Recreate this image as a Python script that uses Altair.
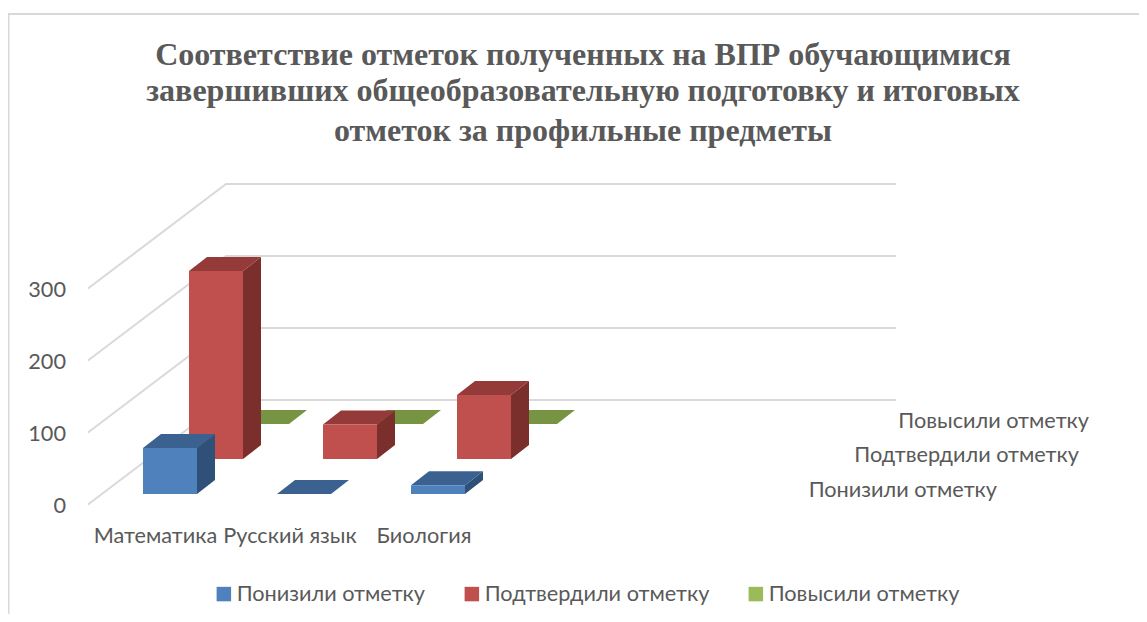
import altair as alt
import pandas as pd

categories = ["Математика", "Русский язык", "Биология"]
series = ["Понизили отметку", "Подтвердили отметку", "Повысили отметку"]
values_down = [64, 0, 12]
values_same = [261, 48, 89]
values_up = [0, 0, 0]
y_ticks = [0, 100, 200, 300]
front_colors = ["#4F81BD", "#C0504D", "#9BBB59"]
top_colors = ["#3B6190", "#943A38", "#769441"]
side_colors = ["#2F5078", "#7B2F2D", "#617A36"]
title_lines = [
    "Соответствие отметок полученных на ВПР обучающимися",
    "завершивших общеобразовательную подготовку и итоговых",
    "отметок за профильные предметы",
]

# Oblique projection of the 3-D plot onto the picture
PX_PER_UNIT = 0.72
FLOOR_LEFT, FLOOR_Y = 88, 504.5
WALL_DX, WALL_DY = 138, 104.5
WALL_RIGHT = 896
BAR_X, BAR_Y = 143, 494
BAR_W = 54
BAR_DX, BAR_DY = 18, 14
CAT_STEP = 134
SER_DX, SER_DY = 46, 35

all_values = [values_down, values_same, values_up]

fronts, tops, sides = [], [], []
for s, vals in enumerate(all_values):
    for c, v in enumerate(vals):
        x0 = BAR_X + CAT_STEP * c + SER_DX * s
        x1 = x0 + BAR_W
        yb = BAR_Y - SER_DY * s
        yt = yb - v * PX_PER_UNIT
        key = f"{s}-{c}"
        fronts.append(dict(s=s, name=series[s], x=x0, x2=x1, y=yb, y2=yt))
        tops += [
            dict(s=s, k=key, y=yt, x=x0, x2=x1),
            dict(s=s, k=key, y=yt - BAR_DY, x=x0 + BAR_DX, x2=x1 + BAR_DX),
        ]
        if v > 0:
            sides += [
                dict(s=s, k=key, x=x1, y=yb, y2=yt),
                dict(s=s, k=key, x=x1 + BAR_DX, y=yb - BAR_DY, y2=yt - BAR_DY),
            ]
fronts, tops, sides = map(pd.DataFrame, (fronts, tops, sides))

X = alt.X("x:Q", axis=None, scale=alt.Scale(domain=[8, 1139], nice=False, zero=False))
Y = alt.Y("y:Q", axis=None, scale=alt.Scale(domain=[614, 8], nice=False, zero=False))

# Walls
wall_rows = []
for t in y_ticks:
    h = t * PX_PER_UNIT
    wall_rows += [
        dict(t=t, x=FLOOR_LEFT, y=FLOOR_Y - h),
        dict(t=t, x=FLOOR_LEFT + WALL_DX, y=FLOOR_Y - h - WALL_DY),
        dict(t=t, x=WALL_RIGHT, y=FLOOR_Y - h - WALL_DY),
    ]
grid = (
    alt.Chart(pd.DataFrame(wall_rows))
    .mark_line(color="#D9D9D9", strokeWidth=2, interpolate="linear")
    .encode(X, Y, detail="t:N", order="x:Q")
)

frame = (
    alt.Chart(pd.DataFrame([dict(x=8, y=14, x2=1139, y2=14), dict(x=8.5, y=14, x2=8.5, y2=614)]))
    .mark_rule(color="#D9D9D9", strokeWidth=2)
    .encode(X, Y, x2="x2:Q", y2="y2:Q")
)

layers = [frame, grid]
color_scale = alt.Scale(domain=series, range=front_colors)
legend = alt.Legend(
    title=None, orient="none", legendX=205, legendY=575, direction="horizontal", columns=3,
    symbolType="square", symbolSize=210, symbolStrokeWidth=0, symbolOpacity=1,
    labelFont="Lato", labelFontSize=21.7, labelColor="#595959", labelOffset=2,
    columnPadding=35, labelLimit=400,
)
for s in [2, 1, 0]:
    side_df = sides[sides.s == s]
    if len(side_df):
        layers.append(
            alt.Chart(side_df).mark_area(color=side_colors[s], orient="vertical")
            .encode(X, Y, y2="y2:Q", detail="k:N")
        )
    layers.append(
        alt.Chart(tops[tops.s == s]).mark_area(color=top_colors[s], orient="horizontal")
        .encode(X, Y, x2="x2:Q", detail="k:N")
    )
    layers.append(
        alt.Chart(fronts[fronts.s == s]).mark_bar()
        .encode(X, Y, x2="x2:Q", y2="y2:Q",
                color=alt.Color("name:N", scale=color_scale, legend=legend))
    )

def text_layer(rows, **kw):
    return (
        alt.Chart(pd.DataFrame(rows))
        .mark_text(baseline="middle", **kw)
        .encode(X, Y, text="t:N")
    )

tick_rows = [dict(t=str(t), x=66, y=505.5 - t * PX_PER_UNIT) for t in y_ticks]
layers.append(text_layer(tick_rows, align="right", font="Lato", fontSize=21.7, color="#595959"))

cat_rows = [dict(t=t, x=x, y=535.5) for t, x in zip(categories, [155.5, 290, 424])]
layers.append(text_layer(cat_rows, align="center", font="Lato", fontSize=21.7, color="#595959"))

depth_rows = [dict(t=series[s], x=x, y=y) for s, x, y in [(0, 997, 489.5), (1, 1079, 454.5), (2, 1089, 420.5)]]
layers.append(text_layer(depth_rows, align="right", font="Lato", fontSize=21.7, color="#595959"))

title_rows = [dict(t=t, x=583, y=y) for t, y in zip(title_lines, [55, 91, 131])]
layers.append(text_layer(title_rows, align="center", font="Liberation Serif", fontWeight="bold",
                         fontSize=32, color="#595959"))

chart = (
    alt.layer(*layers)
    .resolve_scale(color="shared")
    .properties(width=1131, height=606, padding=0, autosize=alt.AutoSizeParams(type="none"))
    .configure_view(stroke=None)
)
chart.save("out.html", embed_options={"renderer": "svg", "actions": False})
